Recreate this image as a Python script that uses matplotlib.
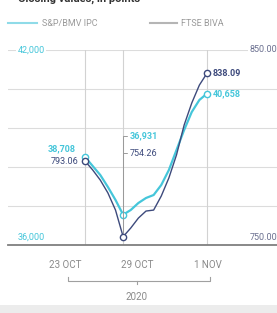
import matplotlib
matplotlib.use("Agg")
import matplotlib.pyplot as plt
from matplotlib.patches import Rectangle

plt.rcParams['font.family'] = ['Roboto', 'DejaVu Sans']

# sesiones (indice) y cierres
sessions = list(range(17))
ipc = [38708, 38431, 38154, 37785, 37385, 36931, 37077, 37292, 37446,
       37538, 37846, 38308, 38923, 39538, 40092, 40462, 40658]
biva = [793.06, 788.5, 783.3, 776.7, 767.9, 754.26, 758.7, 763.8, 767.4,
        767.9, 775.1, 784.4, 796.2, 811.5, 822.8, 832.0, 838.09]

tick_pos = [-2.6, 6.8, 16.1]
tick_labels = ['23 OCT', '29 OCT', '1 NOV']
year_label = '2020'

ipc_lim = (36000, 42000)
biva_lim = (750, 850)

cyan = '#45c6da'
navy = '#3d4a7c'
grey = '#9a9a9a'

fig = plt.figure(figsize=(2.77, 3.13), dpi=100)
ax = fig.add_axes([0.03, 0.2173, 0.97, 0.623])
ax2 = ax.twinx()

ax.set_xlim(-10.06, 25.18)
ax.set_ylim(*ipc_lim)
ax2.set_ylim(*biva_lim)

for a in (ax, ax2):
    for s in a.spines.values():
        s.set_visible(False)
    a.set_yticks([])
    a.tick_params(length=0)
ax.spines['bottom'].set_visible(True)
ax.spines['bottom'].set_color('#7f7f7f')
ax.spines['bottom'].set_linewidth(1.3)

# rejilla
for k in range(1, 6):
    ax.axhline(ipc_lim[0] + k * 1200, color='#dcdcdc', lw=0.8, zorder=0)
for i in (0, 5, 16):
    ax.axvline(sessions[i], color='#d2d2d2', lw=0.8, zorder=0)

ax.plot(sessions, ipc, color=cyan, lw=1.6, zorder=3)
ax2.plot(sessions, biva, color=navy, lw=1.0, zorder=4)
for i in (0, 5, 16):
    ax.plot(sessions[i], ipc[i], 'o', ms=4.5, mfc='white', mec=cyan, mew=1.0, zorder=5)
    ax2.plot(sessions[i], biva[i], 'o', ms=4.5, mfc='white', mec=navy, mew=1.0, zorder=6)

ax.set_xticks(tick_pos)
ax.set_xticklabels(tick_labels, fontsize=7, color='#8a8a8a')
ax.tick_params(axis='x', pad=11)

# etiquetas de eje
ax.text(0.035, 1.0, '{:,}'.format(ipc_lim[1]), transform=ax.transAxes, fontsize=6.5,
        color=cyan, va='center', ha='left', bbox=dict(fc='white', ec='none', pad=1))
ax.text(0.035, 0.015, '{:,}'.format(ipc_lim[0]), transform=ax.transAxes, fontsize=6.5,
        color=cyan, va='bottom', ha='left')
ax.text(1.0, 1.0, '{:.2f}'.format(biva_lim[1]), transform=ax.transAxes, fontsize=6.5,
        color='#6b7090', va='center', ha='right', bbox=dict(fc='white', ec='none', pad=1))
ax.text(1.0, 0.015, '{:.2f}'.format(biva_lim[0]), transform=ax.transAxes, fontsize=6.5,
        color='#6b7090', va='bottom', ha='right')

# anotaciones de puntos
ax.annotate('{:,}'.format(ipc[0]), (sessions[0], ipc[0]), xytext=(-7, 6),
            textcoords='offset points', ha='right', va='center', fontsize=6.5,
            color=cyan, fontweight='bold')
ax2.annotate('{:.2f}'.format(biva[0]), (sessions[0], biva[0]), xytext=(-5, 0),
             textcoords='offset points', ha='right', va='center', fontsize=6.5,
             color=navy)
ax.annotate('{:,}'.format(ipc[5]), (sessions[5], ipc[5]), xytext=(5, 57),
            textcoords='offset points', ha='left', va='center', fontsize=6.5,
            color=cyan, fontweight='bold',
            arrowprops=dict(arrowstyle='-', color='#9a9a9a', lw=0.7,
                            shrinkA=0, shrinkB=0, relpos=(0, 0.5),
                            connectionstyle='angle,angleA=0,angleB=90,rad=0'))
ax2.annotate('{:.2f}'.format(biva[5]), (sessions[5], biva[5]), xytext=(5, 60),
             textcoords='offset points', ha='left', va='center', fontsize=6.5,
             color=navy,
             arrowprops=dict(arrowstyle='-', color='#9a9a9a', lw=0.7,
                             shrinkA=0, shrinkB=3, relpos=(0, 0.5),
                             connectionstyle='angle,angleA=0,angleB=90,rad=0'))
ax.annotate('{:,}'.format(ipc[16]), (sessions[16], ipc[16]), xytext=(4, 0),
            textcoords='offset points', ha='left', va='center', fontsize=6.5,
            color=cyan, fontweight='bold')
ax2.annotate('{:.2f}'.format(biva[16]), (sessions[16], biva[16]), xytext=(4, 0),
             textcoords='offset points', ha='left', va='center', fontsize=6.5,
             color=navy, fontweight='bold')

# titulo cortado y leyenda
fig.text(0.065, 1.004, 'Closing values, in points', fontsize=8, fontweight='bold',
         color='#333333', va='center', ha='left')
fig.lines.append(plt.Line2D([0.03, 0.135], [0.925, 0.925], transform=fig.transFigure,
                            color='#8fdbe8', lw=1.5))
fig.text(0.15, 0.925, 'S&P/BMV IPC', fontsize=6.5, color=grey, va='center')
fig.lines.append(plt.Line2D([0.54, 0.64], [0.925, 0.925], transform=fig.transFigure,
                            color='#b5b5b5', lw=1.5))
fig.text(0.655, 0.925, 'FTSE BIVA', fontsize=6.5, color=grey, va='center')

# corchete del año
by = 1 - 281 / 313
fig.lines.append(plt.Line2D([68 / 277, 68 / 277, 210 / 277, 210 / 277],
                            [by + 0.012, by, by, by + 0.012],
                            transform=fig.transFigure, color='#a0a0a0', lw=0.8))
fig.lines.append(plt.Line2D([137 / 277, 137 / 277], [by, by - 0.01],
                            transform=fig.transFigure, color='#a0a0a0', lw=0.8))
fig.text(137 / 277, 1 - 297 / 313, year_label, fontsize=7, color='#8a8a8a',
         ha='center', va='center')

fig.patches.append(Rectangle((0, 0), 1, 8 / 313, transform=fig.transFigure,
                             fc='#ececec', ec='none'))

fig.savefig('out.png', dpi=100)
